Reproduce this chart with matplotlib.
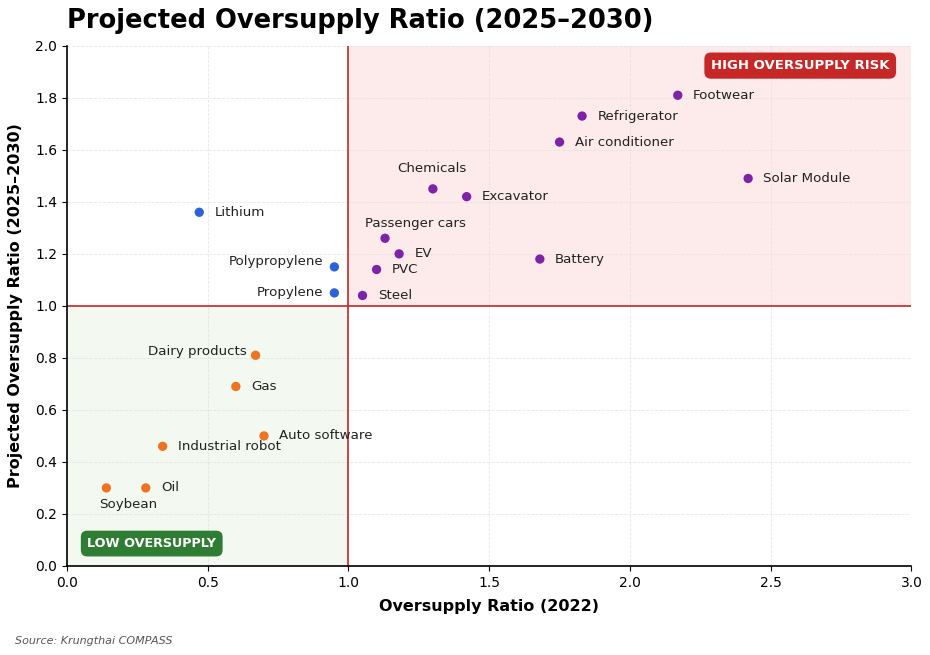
import matplotlib
matplotlib.use("Agg")
import matplotlib.pyplot as plt

names = ["Footwear", "Refrigerator", "Air conditioner", "Solar Module", "Chemicals",
         "Excavator", "Passenger cars", "EV", "PVC", "Steel", "Battery",
         "Lithium", "Polypropylene", "Propylene",
         "Dairy products", "Gas", "Auto software", "Industrial robot", "Oil", "Soybean"]
x2022 = [2.17, 1.83, 1.75, 2.42, 1.30, 1.42, 1.13, 1.18, 1.10, 1.05, 1.68,
         0.47, 0.95, 0.95,
         0.67, 0.60, 0.70, 0.34, 0.28, 0.14]
y2030 = [1.81, 1.73, 1.63, 1.49, 1.45, 1.42, 1.26, 1.20, 1.14, 1.04, 1.18,
         1.36, 1.15, 1.05,
         0.81, 0.69, 0.50, 0.46, 0.30, 0.30]
groups = ["high"] * 11 + ["mid"] * 3 + ["low"] * 6

colors = {"high": "#7E22A8", "mid": "#2A62DA", "low": "#EE7421"}

# label placement (offset in points, ha, va)
place = {
    "Chemicals": ((-1, 10), "center", "bottom"),
    "Passenger cars": ((22, 6), "center", "bottom"),
    "Polypropylene": ((-8, 4), "right", "center"),
    "Propylene": ((-8, 0), "right", "center"),
    "Dairy products": ((-6, 3), "right", "center"),
    "Soybean": ((16, -12), "center", "center"),
}

fig = plt.figure(figsize=(9.3, 6.55), dpi=100)
ax = fig.add_axes([0.072, 0.136, 0.908, 0.794])

ax.set_xlim(0, 3)
ax.set_ylim(0, 2)
ax.axvspan(1, 3, ymin=0.5, ymax=1, color="#FDEBEC", zorder=0, lw=0)
ax.axvspan(0, 1, ymin=0, ymax=0.5, color="#F3F9F1", zorder=0, lw=0)
ax.axvline(1, color="#C62828", lw=1.2, zorder=1)
ax.axhline(1, color="#C62828", lw=1.2, zorder=1)

ax.grid(True, ls="--", lw=0.6, color="#dddddd", alpha=0.7, zorder=0.5)
ax.set_axisbelow(True)

for n, xv, yv, g in zip(names, x2022, y2030, groups):
    ax.scatter(xv, yv, s=45, color=colors[g], zorder=3, edgecolors="none")
    off, ha, va = place.get(n, ((11, 0), "left", "center"))
    ax.annotate(n, (xv, yv), xytext=off, textcoords="offset points",
                ha=ha, va=va, fontsize=9.6, color="#222222", zorder=4)

ax.text(0.974, 0.962, "HIGH OVERSUPPLY RISK", transform=ax.transAxes, ha="right", va="center",
        fontsize=9.5, fontweight="bold", color="white",
        bbox=dict(boxstyle="round,pad=0.5", fc="#C62828", ec="none"))
ax.text(0.024, 0.043, "LOW OVERSUPPLY", transform=ax.transAxes, ha="left", va="center",
        fontsize=9.2, fontweight="bold", color="white",
        bbox=dict(boxstyle="round,pad=0.5", fc="#2E7D32", ec="none"))

ax.spines["top"].set_visible(False)
ax.spines["right"].set_visible(False)
ax.spines["left"].set_linewidth(1.2)
ax.spines["bottom"].set_linewidth(1.2)
ax.set_xticks([0, 0.5, 1.0, 1.5, 2.0, 2.5, 3.0])
ax.set_yticks([0.0, 0.2, 0.4, 0.6, 0.8, 1.0, 1.2, 1.4, 1.6, 1.8, 2.0])
ax.tick_params(labelsize=10)

ax.set_xlabel("Oversupply Ratio (2022)", fontsize=11.5, fontweight="bold", labelpad=7)
ax.set_ylabel("Projected Oversupply Ratio (2025–2030)", fontsize=11.5, fontweight="bold", labelpad=9)

fig.text(0.072, 0.968, "Projected Oversupply Ratio (2025–2030)", fontsize=18.5,
         fontweight="bold", ha="left", va="center")
fig.text(0.016, 0.021, "Source: Krungthai COMPASS", fontsize=8, style="italic",
         color="#555555", ha="left", va="center")

fig.savefig("out.png", dpi=100)
